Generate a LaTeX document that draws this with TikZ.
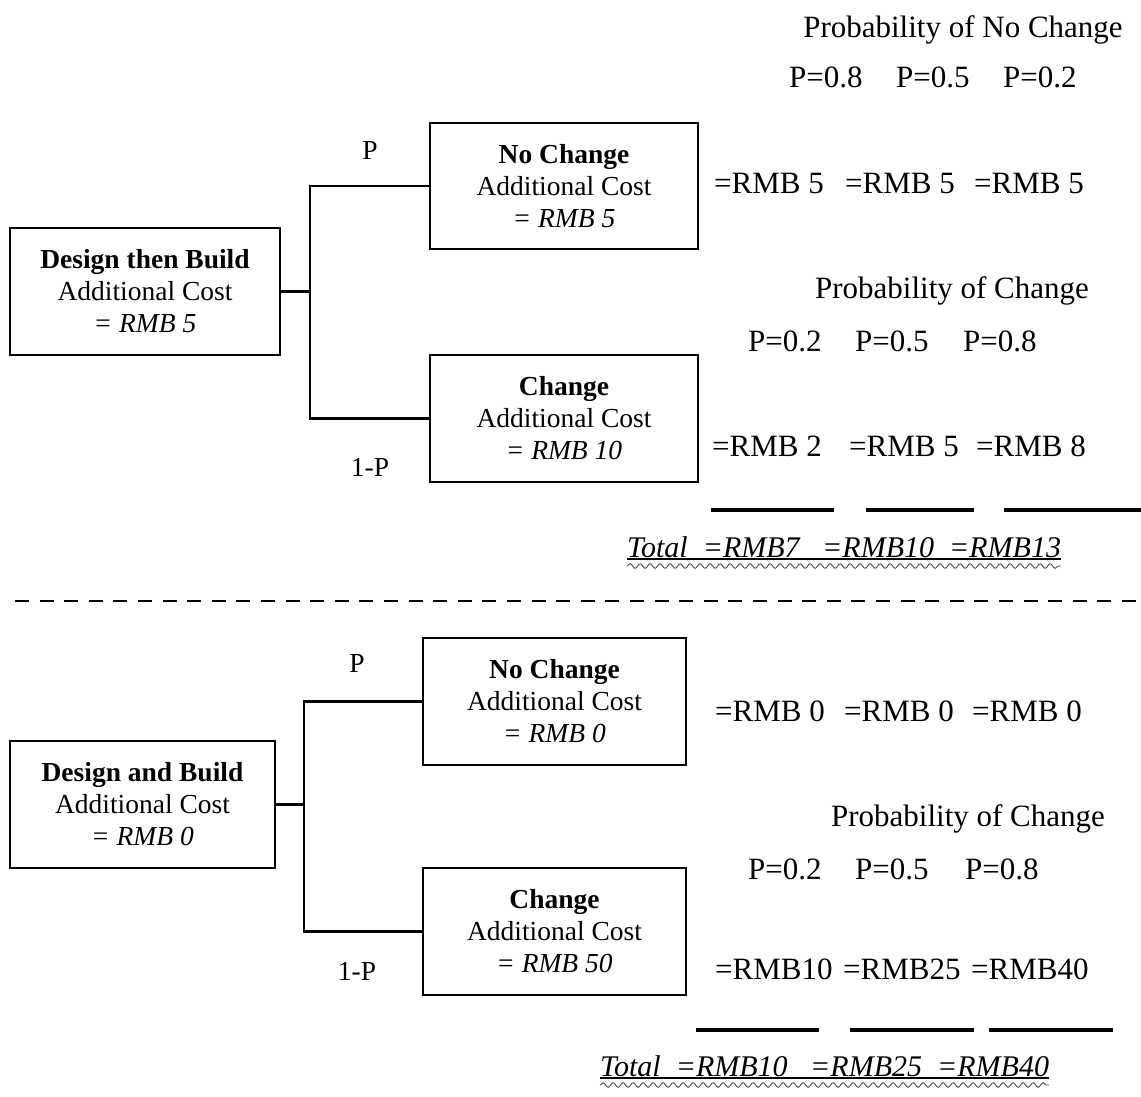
\documentclass[tikz,border=0pt]{standalone}
\usepackage{fontspec}
\setmainfont{Liberation Serif}
\usetikzlibrary{decorations.pathmorphing}
\begin{document}
\begin{tikzpicture}[x=1bp,y=-1bp,
  box/.style={draw,line width=2.2bp,align=center,inner sep=0pt,
    font={\fontsize{27.5bp}{32bp}\selectfont}},
  lbl/.style={inner sep=0pt,font={\fontsize{27.5bp}{32bp}\selectfont}},
  rt/.style={inner sep=0pt,anchor=base west,font={\fontsize{31bp}{36bp}\selectfont}},
  rtc/.style={inner sep=0pt,anchor=base,font={\fontsize{31bp}{36bp}\selectfont}},
  tot/.style={inner sep=0pt,anchor=base west,font={\fontsize{30bp}{36bp}\selectfont\itshape}},
  conn/.style={line width=2.2bp},
  bar/.style={line width=3.8bp},
  uline/.style={line width=1.1bp},
  wavy/.style={line width=0.9bp,black!70,decorate,decoration={snake,segment length=10bp,amplitude=2.3bp}},
  sep/.style={line width=2.6bp,dash pattern=on 14bp off 10.6bp}
]
\useasboundingbox (0,0) rectangle (1141,1097);

% ---------- Top: Design then Build ----------
\node[box,minimum width=270bp,minimum height=127bp] (dtb) at (145,291.5)
  {\textbf{Design then Build}\\Additional Cost\\\textit{= RMB 5}};
\node[box,minimum width=268bp,minimum height=126bp] (nc1) at (564,186)
  {\textbf{No Change}\\Additional Cost\\\textit{= RMB 5}};
\node[box,minimum width=268bp,minimum height=127bp] (ch1) at (564,418.5)
  {\textbf{Change}\\Additional Cost\\\textit{= RMB 10}};
\coordinate (j1) at (310,291.5);
\draw[conn] (dtb.east) -- (j1);
\draw[conn] (nc1.west) -| (j1) |- (ch1.west);
\node[lbl] (p1) at (370,150) {P};
\node[lbl] (q1) at (370,467) {1-P};

\node[rtc] (pnc) at (963,37) {Probability of No Change};
\node[rt] (a1) at (789,87) {P=0.8};
\node[rt] (a2) at (896,87) {P=0.5};
\node[rt] (a3) at (1003,87) {P=0.2};
\node[rt] (b1) at (714,193) {=RMB 5};
\node[rt] (b2) at (845,193) {=RMB 5};
\node[rt] (b3) at (974,193) {=RMB 5};

\node[rtc] (pc1) at (952,298) {Probability of Change};
\node[rt] (c1) at (748,351) {P=0.2};
\node[rt] (c2) at (855,351) {P=0.5};
\node[rt] (c3) at (963,351) {P=0.8};
\node[rt] (d1) at (712,456) {=RMB 2};
\node[rt] (d2) at (849,456) {=RMB 5};
\node[rt] (d3) at (976,456) {=RMB 8};

\coordinate (e1a) at (711,510); \coordinate (e1b) at (834,510);
\coordinate (e2a) at (866,510); \coordinate (e2b) at (974,510);
\coordinate (e3a) at (1004,510); \coordinate (e3b) at (1141,510);
\draw[bar] (e1a) -- (e1b);
\draw[bar] (e2a) -- (e2b);
\draw[bar] (e3a) -- (e3b);

\node[tot] (t1) at (627,557) {Total\ \ =RMB7\ \ \ =RMB10\ \ =RMB13};
\draw[uline] ([yshift=-2bp]t1.base west) -- ([yshift=-2bp]t1.base east);
\draw[wavy] ([yshift=-9bp]t1.base west) -- ([yshift=-9bp]t1.base east);

% ---------- separator ----------
\coordinate (s1) at (15,601); \coordinate (s2) at (1141,601);
\draw[sep] (s1) -- (s2);

% ---------- Bottom: Design and Build ----------
\node[box,minimum width=265bp,minimum height=127bp] (dab) at (142.5,804.5)
  {\textbf{Design and Build}\\Additional Cost\\\textit{= RMB 0}};
\node[box,minimum width=263bp,minimum height=127bp] (nc2) at (554.5,701.5)
  {\textbf{No Change}\\Additional Cost\\\textit{= RMB 0}};
\node[box,minimum width=263bp,minimum height=127bp] (ch2) at (554.5,931.5)
  {\textbf{Change}\\Additional Cost\\\textit{= RMB 50}};
\coordinate (j2) at (304,804.5);
\draw[conn] (dab.east) -- (j2);
\draw[conn] (nc2.west) -| (j2) |- (ch2.west);
\node[lbl] (p2) at (357,663) {P};
\node[lbl] (q2) at (357,971) {1-P};

\node[rt] (f1) at (715,721) {=RMB 0};
\node[rt] (f2) at (844,721) {=RMB 0};
\node[rt] (f3) at (972,721) {=RMB 0};

\node[rtc] (pc2) at (968,826) {Probability of Change};
\node[rt] (g1) at (748,879) {P=0.2};
\node[rt] (g2) at (855,879) {P=0.5};
\node[rt] (g3) at (965,879) {P=0.8};
\node[rt] (h1) at (715,979) {=RMB10};
\node[rt] (h2) at (843,979) {=RMB25};
\node[rt] (h3) at (971,979) {=RMB40};

\coordinate (k1a) at (696,1030); \coordinate (k1b) at (819,1030);
\coordinate (k2a) at (850,1030); \coordinate (k2b) at (974,1030);
\coordinate (k3a) at (989,1030); \coordinate (k3b) at (1113,1030);
\draw[bar] (k1a) -- (k1b);
\draw[bar] (k2a) -- (k2b);
\draw[bar] (k3a) -- (k3b);

\node[tot] (t2) at (600,1076) {Total\ \ =RMB10\ \ \ =RMB25\ \ =RMB40};
\draw[uline] ([yshift=-2bp]t2.base west) -- ([yshift=-2bp]t2.base east);
\draw[wavy] ([yshift=-9bp]t2.base west) -- ([yshift=-9bp]t2.base east);
\end{tikzpicture}
\end{document}
